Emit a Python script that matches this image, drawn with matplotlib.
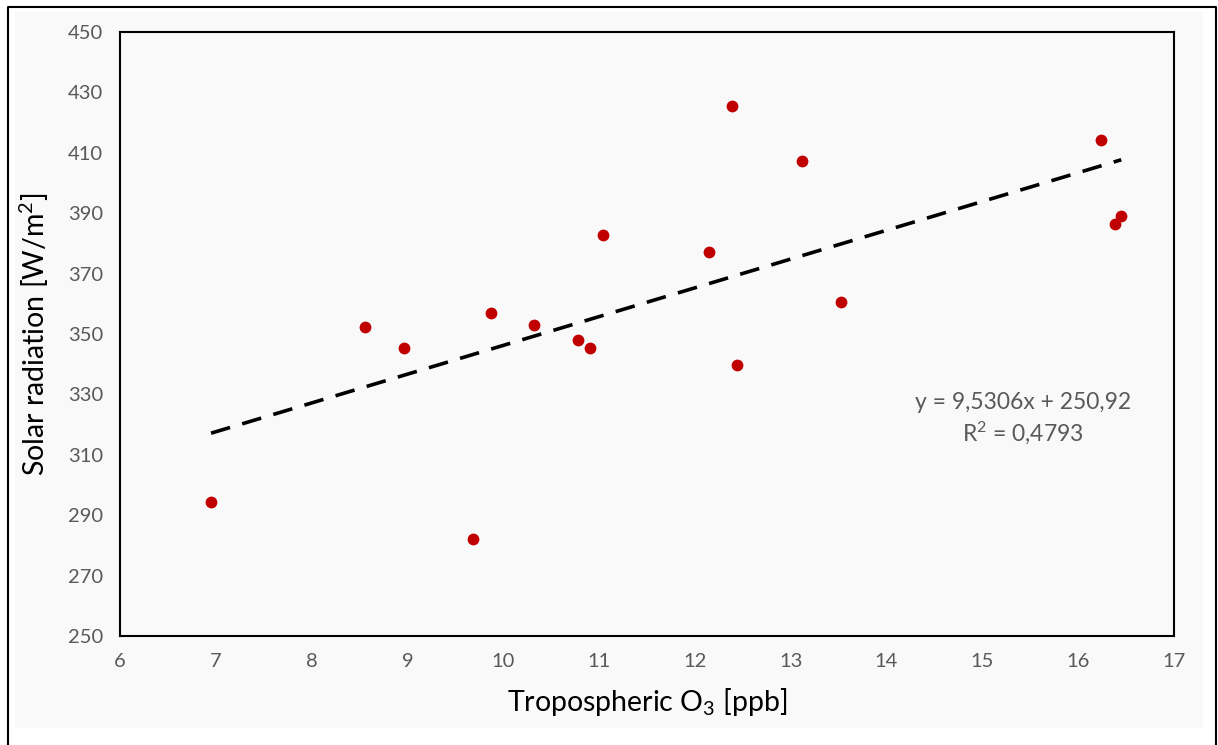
import numpy as np
import matplotlib
matplotlib.use("Agg")
import matplotlib.pyplot as plt
from matplotlib.lines import Line2D

# Werte
ozone = [6.95, 8.56, 8.96, 9.68, 9.87, 10.32, 10.78, 10.91, 11.04,
         12.15, 12.39, 12.44, 13.12, 13.52, 16.24, 16.38, 16.45]
radiation = [294.4, 352.3, 345.4, 282.1, 357.0, 353.0, 348.0, 345.4, 382.8,
             377.2, 425.5, 339.7, 407.3, 360.6, 414.2, 386.4, 389.1]

# Trendlinie (Excel-Angabe)
slope = 9.5306
intercept = 250.92
r_squared = 0.4793

x_ticks = list(range(6, 18))
y_ticks = list(range(250, 451, 20))

plt.rcParams['font.family'] = ['Lato', 'DejaVu Sans']
plt.rcParams['mathtext.fontset'] = 'custom'
plt.rcParams['mathtext.rm'] = 'Lato'
plt.rcParams['mathtext.it'] = 'Lato:italic'
plt.rcParams['mathtext.default'] = 'rm'

tick_color = '#595959'


def main():
    fig = plt.figure(figsize=(12.18, 7.45), dpi=100, facecolor='white')

    # leicht grauer Hintergrund + Rahmen aussen
    bg = plt.Rectangle((15 / 1218, 1 - 728 / 745), 1188 / 1218, 716 / 745,
                       transform=fig.transFigure, facecolor='#f9f9f9',
                       edgecolor='none', zorder=-5)
    fig.add_artist(bg)
    frame_x = [8 / 1218, 8 / 1218, 1216 / 1218, 1216 / 1218]
    frame_y = [0, 1 - 7 / 745, 1 - 7 / 745, 0]
    fig.add_artist(Line2D(frame_x, frame_y, transform=fig.transFigure,
                          color='black', lw=1.5))

    ax = fig.add_axes([120 / 1218, 1 - 636 / 745, 1054 / 1218, 604 / 745])
    ax.set_facecolor('#f9f9f9')

    ax.scatter(ozone, radiation, s=72, color='#c00000', zorder=3, linewidths=0)

    # lineare Trendlinie
    xs = np.array([min(ozone), max(ozone)])
    ax.plot(xs, slope * xs + intercept, color='black', lw=2.6,
            linestyle=(0, (5.5, 3.5)), zorder=2)

    ax.set_xlim(6, 17)
    ax.set_ylim(250, 450)
    ax.set_xticks(x_ticks)
    ax.set_yticks(y_ticks)
    ax.tick_params(length=0, labelsize=14.5, labelcolor=tick_color, pad=12)
    for s in ax.spines.values():
        s.set_color('black')
        s.set_linewidth(1.5)

    ax.set_xlabel(r'Tropospheric O$_3$ [ppb]', fontsize=20.5, labelpad=12)
    ax.set_ylabel(r'Solar radiation [W/m$^2$]', fontsize=20.5, labelpad=12)

    eq = f"y = {slope:.4f}x + {intercept:.2f}".replace('.', ',')
    r2 = f"R$^2$ = {r_squared:.4f}".replace('.', ',')
    ax.text(15.42, 327.2, eq, ha='center', va='center', fontsize=16.5, color=tick_color)
    ax.text(15.42, 317.2, r2, ha='center', va='center', fontsize=16.5, color=tick_color)

    fig.savefig('out.png', dpi=100, facecolor='white')
    plt.close()


if __name__ == "__main__":
    main()
